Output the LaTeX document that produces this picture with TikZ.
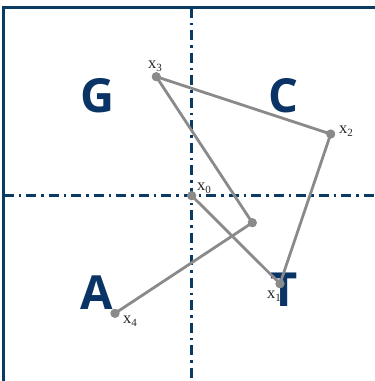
\documentclass[tikz,border=0pt]{standalone}
\usepackage{fontspec}
\setmainfont{Liberation Serif}
\newfontfamily\lettfont{Open Sans}
\definecolor{navy}{HTML}{0B3A62}
\definecolor{lettblue}{HTML}{0A3466}
\definecolor{ptgray}{HTML}{8A8A8A}
\newcommand{\xlab}[1]{x\raisebox{-0.4ex}{\fontsize{11}{11}\selectfont #1}}
\begin{document}
\begin{tikzpicture}[x=1pt,y=-1pt,
  frameline/.style={draw=navy,line width=3.2pt},
  axisline/.style={draw=navy,line width=3pt,dash pattern=on 10pt off 5pt on 2.5pt off 5pt},
  letter/.style={font=\lettfont\bfseries\fontsize{47}{47}\selectfont,text=lettblue,inner sep=0pt},
  dot/.style={circle,fill=ptgray,inner sep=0pt,minimum size=9pt},
  walk/.style={draw=ptgray,line width=2.8pt},
  lab/.style={font=\fontsize{16.5}{16.5}\selectfont,text=black!85,inner sep=0pt}]
\useasboundingbox (0,0) rectangle (375,381);
\begin{scope}
\clip (0,0) rectangle (375,381);
\draw[frameline] (3.5,7.5) rectangle (400,400);
\coordinate (vt) at (191.5,7.5);
\coordinate (vb) at (191.5,381);
\coordinate (hl) at (3.5,195.5);
\coordinate (hr) at (375,195.5);
\draw[axisline] (vt) -- (vb);
\draw[axisline] (hl) -- (hr);
\end{scope}
\node[letter] (G) at (98,96) {G};
\node[letter] (C) at (283,96) {C};
\node[letter] (A) at (97,293) {A};
\node[letter] (T) at (284,290) {T};
\node[dot] (x0) at (191.7,195.7) {};
\node[dot] (x1) at (280,283.7) {};
\node[dot] (x2) at (330.7,134) {};
\node[dot] (x3) at (156.3,76.7) {};
\node[dot] (m) at (252.3,222.7) {};
\node[dot] (x4) at (115,313.3) {};
\draw[walk] (x0.center) -- (x1.center) -- (x2.center) -- (x3.center) -- (m.center) -- (x4.center);
\foreach \n in {x0,x1,x2,x3,m,x4} \fill[ptgray] (\n) circle (4.5pt);
\node[lab] (l0) at (204,188) {\xlab{0}};
\node[lab] (l1) at (274,296) {\xlab{1}};
\node[lab] (l2) at (346,131) {\xlab{2}};
\node[lab] (l3) at (155,66) {\xlab{3}};
\node[lab] (l4) at (130,321) {\xlab{4}};
\end{tikzpicture}
\end{document}
